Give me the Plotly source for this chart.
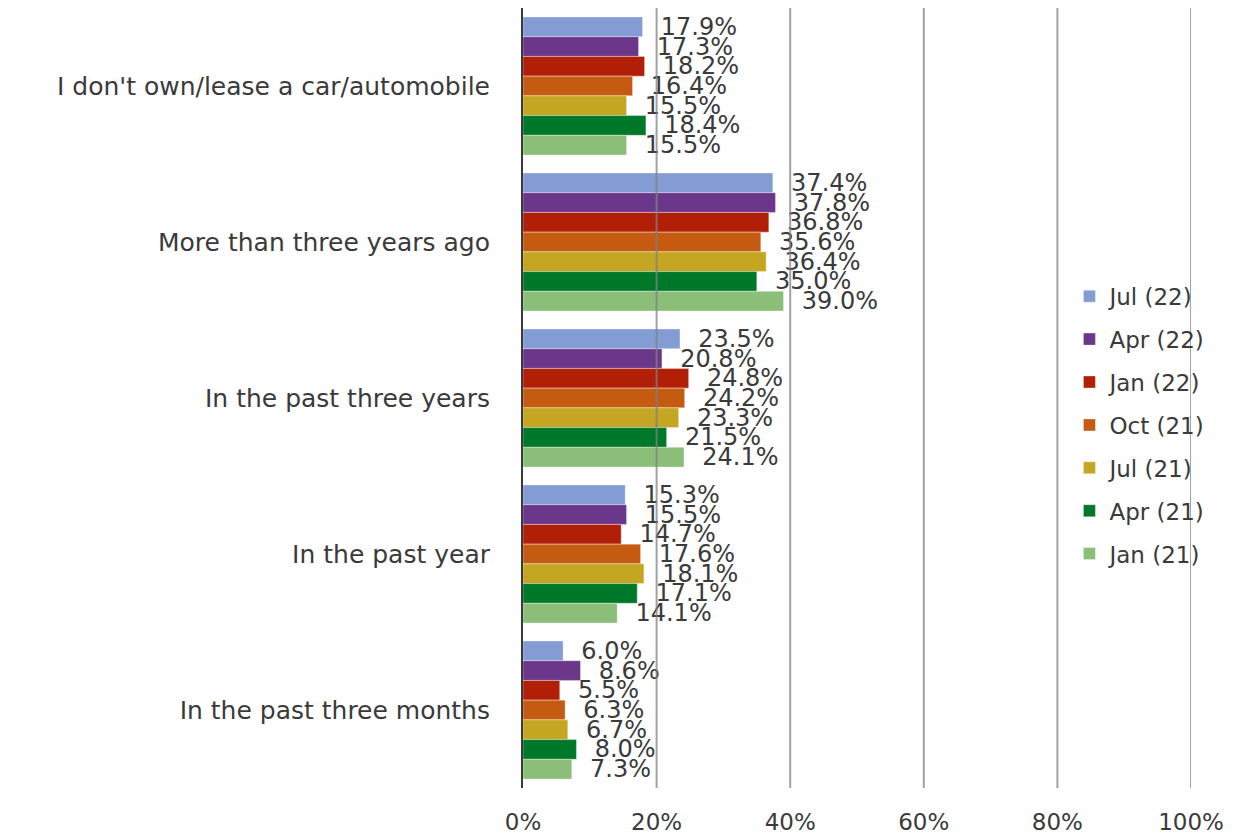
import plotly.graph_objects as go

categories = [
    "I don't own/lease a car/automobile",
    "More than three years ago",
    "In the past three years",
    "In the past year",
    "In the past three months",
]

series_names = ["Jul (22)", "Apr (22)", "Jan (22)", "Oct (21)", "Jul (21)", "Apr (21)", "Jan (21)"]

jul22 = [17.9, 37.4, 23.5, 15.3, 6.0]
apr22 = [17.3, 37.8, 20.8, 15.5, 8.6]
jan22 = [18.2, 36.8, 24.8, 14.7, 5.5]
oct21 = [16.4, 35.6, 24.2, 17.6, 6.3]
jul21 = [15.5, 36.4, 23.3, 18.1, 6.7]
apr21 = [18.4, 35.0, 21.5, 17.1, 8.0]
jan21 = [15.5, 39.0, 24.1, 14.1, 7.3]

series_values = [jul22, apr22, jan22, oct21, jul21, apr21, jan21]
colors = ["#849CD4", "#6A378A", "#B01F06", "#C55A11", "#C4A622", "#00782A", "#8BBE78"]

x_ticks = [0, 20, 40, 60, 80, 100]
x_tick_labels = ["0%", "20%", "40%", "60%", "80%", "100%"]

FONT = "DejaVu Sans, Liberation Sans, Arial, sans-serif"
TEXT_COLOR = "#3A3A3A"

fig = go.Figure()
for name, vals, col in zip(series_names, series_values, colors):
    fig.add_trace(go.Bar(
        y=categories,
        x=vals,
        orientation="h",
        name=name,
        legendgroup=name,
        marker=dict(color=col, line=dict(color="rgba(255,255,255,0.35)", width=1)),
        text=[f"  {v:.1f}%" for v in vals],
        textposition="outside",
        textfont=dict(family=FONT, size=24, color=TEXT_COLOR),
        constraintext="none",
        cliponaxis=False,
    ))

# gridlines drawn above the bars, as in the reference
for t in x_ticks[1:]:
    fig.add_shape(type="line", xref="x", yref="paper", x0=t, x1=t, y0=0, y1=1,
                  line=dict(color="rgba(130,130,130,0.75)", width=2), layer="above")

fig.update_layout(
    width=1244,
    height=838,
    margin=dict(l=515, r=61, t=0, b=58),
    paper_bgcolor="white",
    plot_bgcolor="white",
    barmode="group",
    bargap=0.115,
    bargroupgap=0,
    font=dict(family=FONT, size=22, color=TEXT_COLOR),
    showlegend=True,
    legend=dict(
        x=0.818, y=0.658, xanchor="left", yanchor="top",
        bgcolor="rgba(0,0,0,0)",
        font=dict(family=FONT, size=23, color=TEXT_COLOR),
        tracegroupgap=10,
        itemwidth=30,
    ),
    xaxis=dict(
        range=[0, 100],
        tickvals=x_ticks,
        ticktext=x_tick_labels,
        showgrid=False,
        zeroline=False,
        showline=False,
        tickfont=dict(family=FONT, size=23, color=TEXT_COLOR),
        ticks="",
        ticklabelstandoff=18,
    ),
    yaxis=dict(
        autorange="reversed",
        showline=True,
        linecolor="#3A3A3A",
        linewidth=2,
        ticks="",
        ticklabelstandoff=26,
        tickfont=dict(family=FONT, size=25, color=TEXT_COLOR),
    ),
)

fig.write_html("out.html")
